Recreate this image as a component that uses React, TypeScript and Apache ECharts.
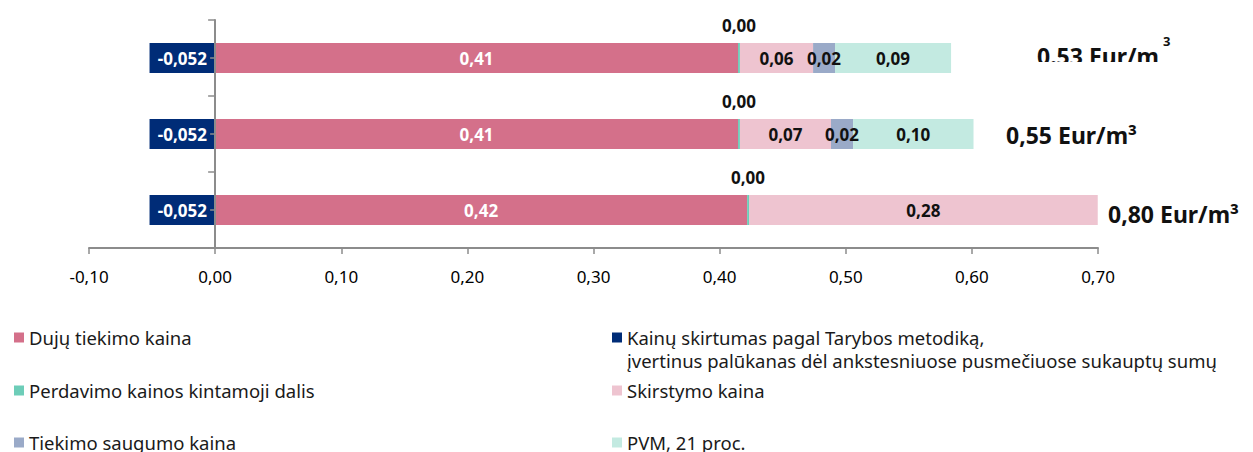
import React, { useEffect, useRef } from "react";
import * as echarts from "echarts";

const categories = ["0,80 Eur/m³", "0,55 Eur/m³", "0.53 Eur/m"];
const dujuTiekimo = [0.4218, 0.4146, 0.4146];
const kainuSkirtumas = [-0.052, -0.052, -0.052];
const perdavimo = [0.0015, 0.0015, 0.0015];
const skirstymo = [0.2765, 0.0722, 0.058];
const saugumo = [null, 0.0175, 0.0174];
const pvm = [null, 0.0955, 0.092];
const xMin = -0.1;
const xMax = 0.7;
const xStep = 0.1;

const kainuLines = [
  "Kainų skirtumas pagal Tarybos metodiką,",
  "įvertinus palūkanas dėl ankstesniuose pusmečiuose sukauptų sumų",
];
const seriesNames = {
  duju: "Dujų tiekimo kaina",
  kainu: kainuLines.join("\n"),
  perd: "Perdavimo kainos kintamoji dalis",
  skirst: "Skirstymo kaina",
  saug: "Tiekimo saugumo kaina",
  pvm: "PVM, 21 proc.",
};

const FONT = "'Noto Sans', sans-serif";

function fmt(v: number, d = 2) {
  return v.toFixed(d).replace(".", ",");
}

export default function App() {
  const ref = useRef<HTMLDivElement>(null);
  useEffect(() => {
    if (!ref.current) return;
    const chart = echarts.init(ref.current, null, { renderer: "svg" });
    const lbl = (color: string, d = 2, position: any = "inside", extra: any = {}) => ({
      show: true,
      position,
      color,
      fontFamily: FONT,
      fontWeight: "bold",
      fontSize: 17,
      formatter: (p: any) => (p.value == null ? "" : fmt(p.value, d)),
      ...extra,
    });
    const bar = (name: string, data: any[], color: string, label: any) => ({
      type: "bar",
      name,
      stack: "total",
      data,
      barWidth: 30,
      itemStyle: { color },
      label,
      emphasis: { disabled: true },
    });
    const legendItem = (name: string, left: number, top: number, extra: any = {}) => ({
      data: [name],
      left,
      top,
      padding: 0,
      itemWidth: 10,
      itemHeight: 10,
      icon: "rect",
      selectedMode: false,
      textStyle: { fontFamily: FONT, fontSize: 18.5, color: "#1a1a1a" },
      ...extra,
    });
    const totalText = (text: string, x: number, y: number) => ({
      type: "text",
      x,
      y,
      z: 5,
      style: { text, fill: "#111", font: `bold 23px ${FONT}`, align: "left", verticalAlign: "middle" },
    });
    chart.setOption({
      animation: false,
      grid: { left: 89, right: 155, top: 20, bottom: 204, containLabel: false },
      xAxis: {
        type: "value",
        min: xMin,
        max: xMax,
        interval: xStep,
        splitLine: { show: false },
        axisLine: { show: true, lineStyle: { color: "#8c8c8c", width: 2 } },
        axisTick: { show: true, length: 6, lineStyle: { color: "#8c8c8c", width: 1.5 } },
        axisLabel: {
          color: "#000",
          fontFamily: FONT,
          fontSize: 17,
          margin: 20,
          formatter: (v: number) => fmt(v),
        },
      },
      yAxis: [
        {
          type: "category",
          data: categories,
          z: 10,
          axisLine: { show: true, onZero: true, lineStyle: { color: "#8c8c8c", width: 2 } },
          axisTick: { show: true, length: 7, lineStyle: { color: "#8c8c8c", width: 1.5 } },
          axisLabel: { show: false },
        },
        {
          type: "category",
          data: categories,
          position: "left",
          offset: -126.1,
          z: 10,
          axisLine: { show: false },
          axisTick: { show: true, alignWithLabel: true, length: 5, lineStyle: { color: "#8c8c8c", width: 1.5 } },
          axisLabel: { show: false },
        },
      ],
      legend: [
        legendItem(seriesNames.duju, 14, 328),
        legendItem(seriesNames.perd, 14, 381),
        legendItem(seriesNames.saug, 14, 433),
        legendItem(seriesNames.kainu, 612, 328, { formatter: () => kainuLines[0] }),
        legendItem(seriesNames.skirst, 612, 381),
        legendItem(seriesNames.pvm, 612, 433),
      ],
      series: [
        bar(seriesNames.duju, dujuTiekimo, "#D4708A", lbl("#ffffff")),
        bar(seriesNames.kainu, kainuSkirtumas, "#002C77", lbl("#ffffff", 3)),
        bar(seriesNames.perd, perdavimo, "#6DCDB8", lbl("#111111", 2, "top", { distance: 9 })),
        bar(seriesNames.skirst, skirstymo, "#EEC4D0", lbl("#111111")),
        bar(seriesNames.saug, saugumo, "#9AAAC8", lbl("#111111")),
        bar(seriesNames.pvm, pvm, "#C3EAE1", lbl("#111111")),
      ],
      graphic: [
        {
          type: "text",
          x: 627,
          y: 360,
          style: {
            text: kainuLines[1],
            fill: "#1a1a1a",
            font: `18.5px ${FONT}`,
            align: "left",
            verticalAlign: "middle",
          },
        },
        totalText(categories[2], 1037, 56),
        { type: "rect", x: 1030, y: 62, z: 6, shape: { width: 145, height: 10 }, style: { fill: "#fff" } },
        {
          type: "text",
          x: 1163,
          y: 41,
          z: 7,
          style: { text: "3", fill: "#111", font: `bold 13px ${FONT}`, align: "left", verticalAlign: "middle" },
        },
        totalText(categories[1], 1006, 135),
        totalText(categories[0], 1108, 214),
      ],
    });
    return () => chart.dispose();
  }, []);
  return <div ref={ref} style={{ position: "absolute", left: 0, top: 0, width: 1253, height: 452 }} />;
}
